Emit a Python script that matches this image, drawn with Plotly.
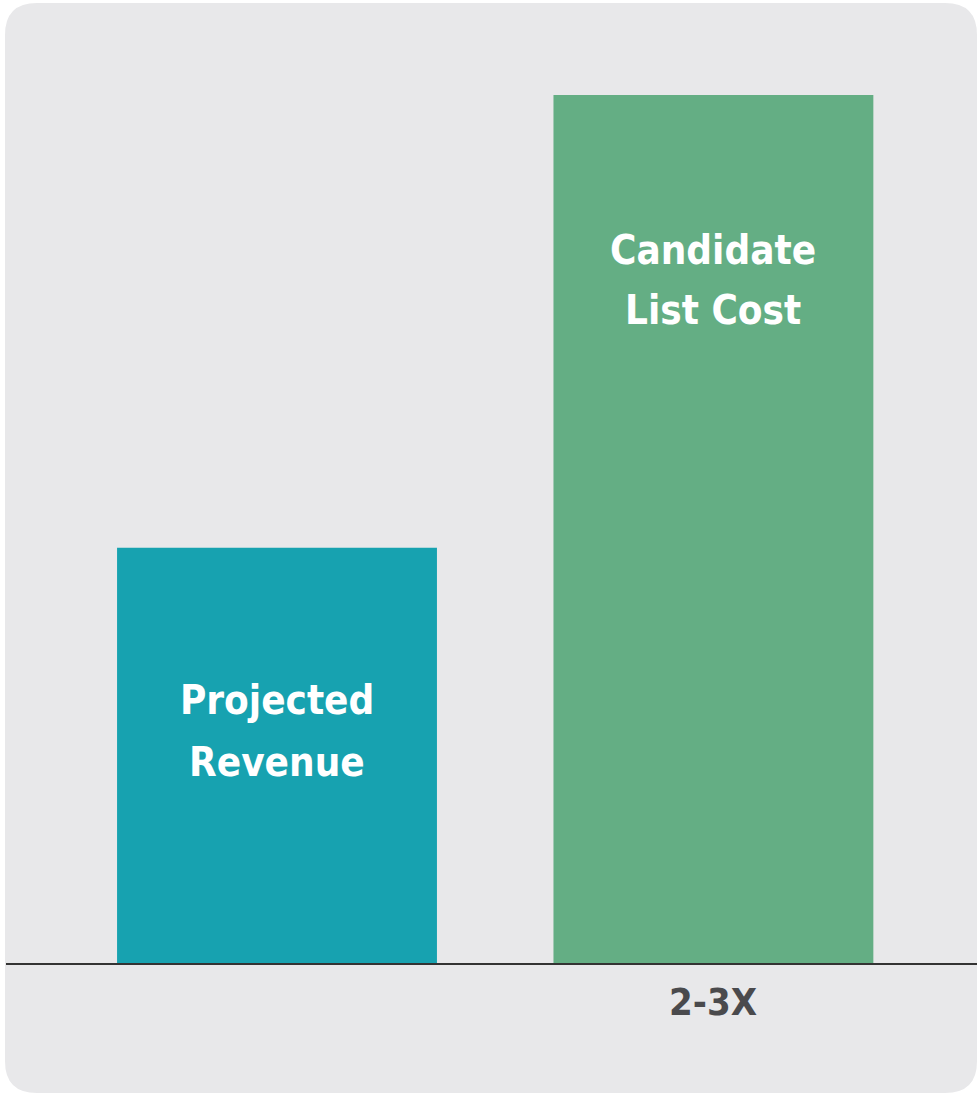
import plotly.graph_objects as go

categories = ["Projected Revenue", "Candidate List Cost"]
values = [1.0, 2.09]
bar_label_lines = [["Projected", "Revenue"], ["Candidate", "List Cost"]]
axis_labels = ["", "2-3X"]
colors = ["#17a2b0", "#64ae84"]

W, H = 977, 1094
ml, mr, mt, mb = 6, 0, 0, 131
pw, ph = W - ml - mr, H - mt - mb

fig = go.Figure()
fig.add_trace(go.Bar(
    x=categories, y=values, marker_color=colors, marker_line_width=0,
    width=0.733, hoverinfo="skip", showlegend=False,
))

font_family = "Liberation Sans Narrow, DejaVu Sans Condensed, Arial Narrow, sans-serif"
line_fracs = [[0.633, 0.484], [0.8215, 0.7524]]
for c, v, lines, fr in zip(categories, values, bar_label_lines, line_fracs):
    for t, f in zip(lines, fr):
        fig.add_annotation(x=c, y=v * f, text="<b>" + t + "</b>", showarrow=False,
                           font=dict(family=font_family, size=40, color="white"),
                           xanchor="center", yanchor="middle")

for c, t in zip(categories, axis_labels):
    if t:
        fig.add_annotation(x=c, y=-0.0405, yref="paper", text="<b>" + t + "</b>",
                           showarrow=False,
                           font=dict(family=font_family, size=38, color="#4a4a4d"),
                           xanchor="center", yanchor="middle")

# rounded background panel
def px_x(p):
    return (p - ml) / pw

def px_y(p):
    return (H - mb - p) / ph

x0, x1 = px_x(5), px_x(977)
y0, y1 = px_y(1093), px_y(3)
rx, ry = 32 / pw, 32 / ph
path = (f"M {x0+rx},{y1} L {x1-rx},{y1} Q {x1},{y1} {x1},{y1-ry} "
        f"L {x1},{y0+ry} Q {x1},{y0} {x1-rx},{y0} L {x0+rx},{y0} "
        f"Q {x0},{y0} {x0},{y0+ry} L {x0},{y1-ry} Q {x0},{y1} {x0+rx},{y1} Z")
fig.add_shape(type="path", path=path, xref="paper", yref="paper",
              fillcolor="#e8e8ea", line_width=0, layer="below")

fig.update_layout(
    width=W, height=H,
    margin=dict(l=ml, r=mr, t=mt, b=mb),
    paper_bgcolor="white", plot_bgcolor="rgba(0,0,0,0)",
    xaxis=dict(range=[-0.621, 1.604], showticklabels=False, showgrid=False,
               zeroline=False, showline=True, linecolor="#333333", linewidth=2,
               fixedrange=True),
    yaxis=dict(range=[0, 2.319], visible=False, showgrid=False, zeroline=False,
               fixedrange=True),
)

fig.write_html("out.html", config={"displayModeBar": False},
               post_script="document.body.style.margin='0px';document.body.style.overflow='hidden';")
